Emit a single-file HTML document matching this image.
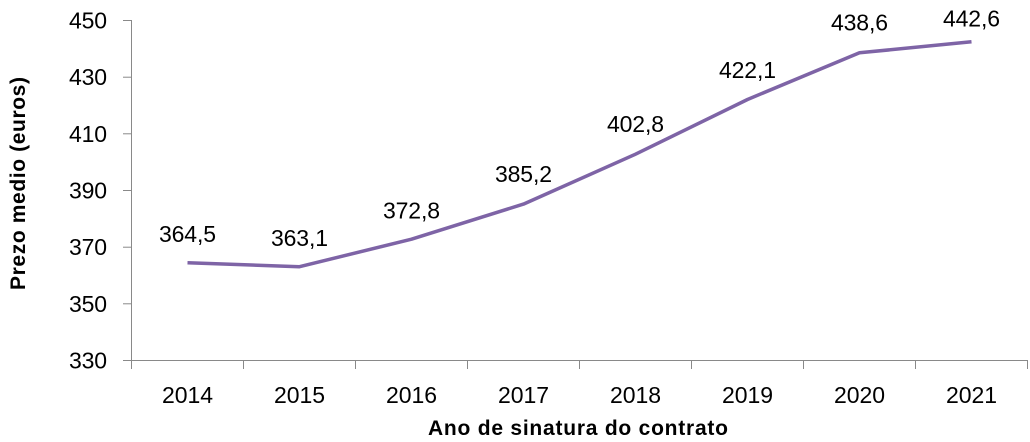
<!DOCTYPE html>
<html>
<head>
<meta charset="utf-8">
<style>
html,body{margin:0;padding:0;background:#fff;}
svg{display:block;}
text{font-family:"Liberation Sans",sans-serif;fill:#000;}
</style>
</head>
<body>
<svg width="1030" height="442" viewBox="0 0 1030 442" xmlns="http://www.w3.org/2000/svg">
<rect width="1030" height="442" fill="#fff"/>
<g stroke="#898989" stroke-width="1" fill="none">
<line x1="131.5" y1="20" x2="131.5" y2="361"/>
<line x1="131" y1="360.5" x2="1028" y2="360.5"/>
<line x1="123" y1="20.5" x2="131.5" y2="20.5"/>
<line x1="123" y1="77.2" x2="131.5" y2="77.2"/>
<line x1="123" y1="133.8" x2="131.5" y2="133.8"/>
<line x1="123" y1="190.5" x2="131.5" y2="190.5"/>
<line x1="123" y1="247.2" x2="131.5" y2="247.2"/>
<line x1="123" y1="303.8" x2="131.5" y2="303.8"/>
<line x1="123" y1="360.5" x2="131.5" y2="360.5"/>
<line x1="131.5" y1="360.5" x2="131.5" y2="369"/>
<line x1="243.5" y1="360.5" x2="243.5" y2="369"/>
<line x1="355.5" y1="360.5" x2="355.5" y2="369"/>
<line x1="467.5" y1="360.5" x2="467.5" y2="369"/>
<line x1="579.5" y1="360.5" x2="579.5" y2="369"/>
<line x1="691.5" y1="360.5" x2="691.5" y2="369"/>
<line x1="803.5" y1="360.5" x2="803.5" y2="369"/>
<line x1="915.5" y1="360.5" x2="915.5" y2="369"/>
<line x1="1027.5" y1="360.5" x2="1027.5" y2="369"/>
</g>
<g font-size="23" text-anchor="end">
<text x="107" y="28.5" textLength="38">450</text>
<text x="107" y="85.2" textLength="38">430</text>
<text x="107" y="141.8" textLength="38">410</text>
<text x="107" y="198.5" textLength="38">390</text>
<text x="107" y="255.2" textLength="38">370</text>
<text x="107" y="311.8" textLength="38">350</text>
<text x="107" y="368.5" textLength="38">330</text>
</g>
<g font-size="23" text-anchor="middle">
<text x="187.5" y="403" textLength="51">2014</text>
<text x="299.5" y="403" textLength="51">2015</text>
<text x="411.5" y="403" textLength="51">2016</text>
<text x="523.5" y="403" textLength="51">2017</text>
<text x="635.5" y="403" textLength="51">2018</text>
<text x="747.5" y="403" textLength="51">2019</text>
<text x="859.5" y="403" textLength="51">2020</text>
<text x="971.5" y="403" textLength="51">2021</text>
</g>
<polyline fill="none" stroke="#7E64A6" stroke-width="3.5" stroke-linejoin="round" stroke-linecap="butt"
points="187.5,262.75 299.5,266.7 411.5,239.2 523.5,204.1 635.5,154.2 747.5,99.5 859.5,52.8 971.5,41.8"/>
<g font-size="23" text-anchor="middle">
<text x="187.5" y="242" textLength="57">364,5</text>
<text x="299.5" y="246" textLength="57">363,1</text>
<text x="411.5" y="218.3" textLength="57">372,8</text>
<text x="523.5" y="182" textLength="57">385,2</text>
<text x="635.5" y="132" textLength="57">402,8</text>
<text x="747.5" y="78" textLength="57">422,1</text>
<text x="859.5" y="30.7" textLength="57">438,6</text>
<text x="971.5" y="26.7" textLength="57">442,6</text>
</g>
<text x="578" y="435" font-size="21" font-weight="bold" text-anchor="middle" textLength="300">Ano de sinatura do contrato</text>
<text transform="translate(25,183.5) rotate(-90)" x="0" y="0" font-size="21" font-weight="bold" text-anchor="middle" textLength="213">Prezo medio (euros)</text>
</svg>
</body>
</html>
